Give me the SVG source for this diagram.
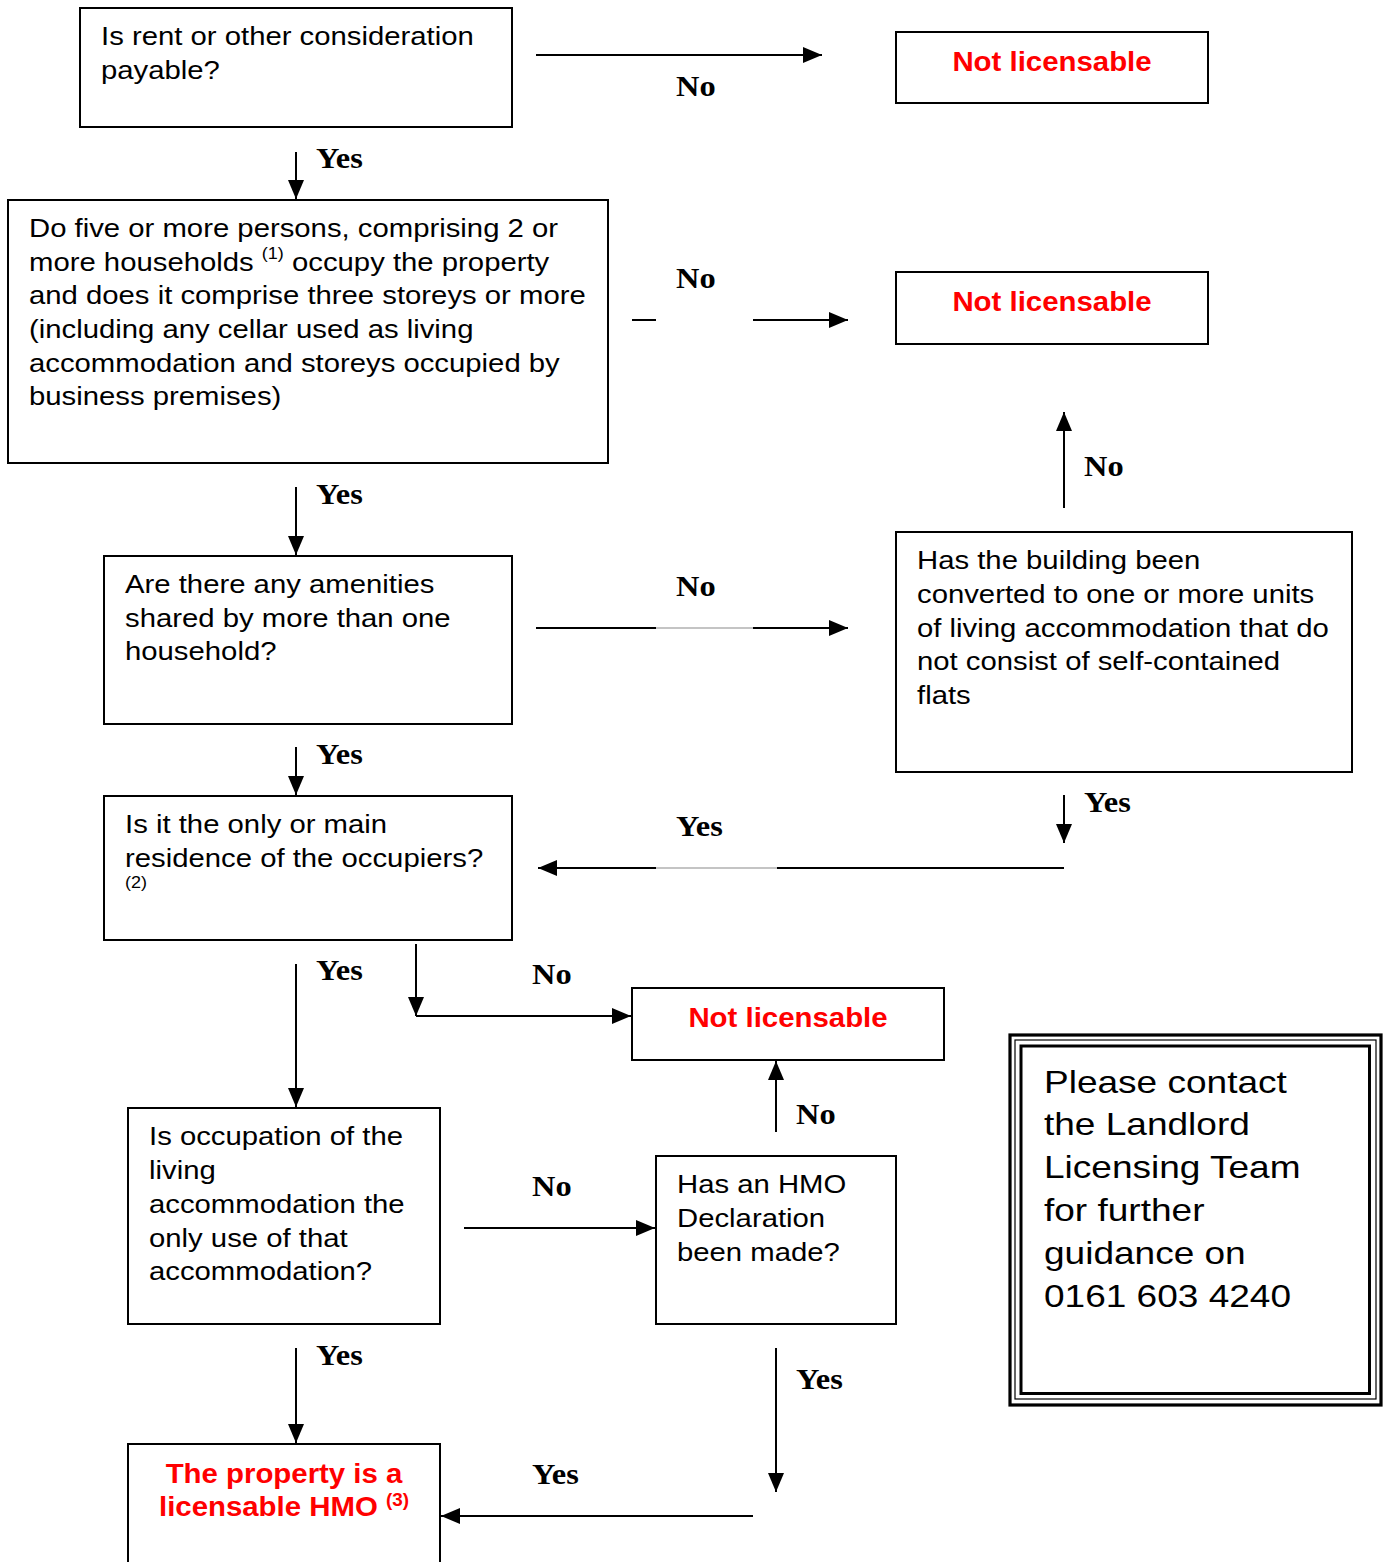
<svg xmlns="http://www.w3.org/2000/svg" width="1388" height="1562" viewBox="0 0 1388 1562">
<style>
.box{fill:#fff;stroke:#000;stroke-width:2}
.t{font-family:"Liberation Sans",Arial,sans-serif;font-size:26px;fill:#000}
.sup{font-size:16px}
.red{font-family:"Liberation Sans",Arial,sans-serif;font-size:28px;font-weight:bold;fill:#ff0000}
.lbl{font-family:"Liberation Serif","Times New Roman",serif;font-size:30px;font-weight:bold;fill:#000}
.c{stroke:#000;stroke-width:2;fill:none}
.g{stroke:#b0b0b0;stroke-width:1.5;fill:none}
.big{font-family:"Liberation Sans",Arial,sans-serif;font-size:32px;fill:#000}
</style>
<defs>
<marker id="ah" markerUnits="userSpaceOnUse" markerWidth="20" markerHeight="16" refX="19" refY="8" orient="auto">
<path d="M0,0 L19,8 L0,16 Z" fill="#000"/>
</marker>
</defs>
<rect width="1388" height="1562" fill="#fff"/>

<g id="connectors">
<line class="c" x1="536" y1="55" x2="822" y2="55" marker-end="url(#ah)"/>
<line class="c" x1="296" y1="152" x2="296" y2="199" marker-end="url(#ah)"/>
<line class="c" x1="632" y1="320" x2="656" y2="320"/>
<line class="c" x1="753" y1="320" x2="848" y2="320" marker-end="url(#ah)"/>
<line class="c" x1="1064" y1="508" x2="1064" y2="412" marker-end="url(#ah)"/>
<line class="c" x1="296" y1="487" x2="296" y2="555" marker-end="url(#ah)"/>
<line class="c" x1="536" y1="628" x2="656" y2="628"/>
<line class="g" x1="656" y1="628" x2="753" y2="628"/>
<line class="c" x1="753" y1="628" x2="848" y2="628" marker-end="url(#ah)"/>
<line class="c" x1="296" y1="747" x2="296" y2="795" marker-end="url(#ah)"/>
<line class="c" x1="1064" y1="795" x2="1064" y2="843" marker-end="url(#ah)"/>
<line class="c" x1="1064" y1="868" x2="777" y2="868"/>
<line class="g" x1="777" y1="868" x2="656" y2="868"/>
<line class="c" x1="656" y1="868" x2="538" y2="868" marker-end="url(#ah)"/>
<line class="c" x1="296" y1="964" x2="296" y2="1107" marker-end="url(#ah)"/>
<line class="c" x1="416" y1="944" x2="416" y2="1016" marker-end="url(#ah)"/>
<line class="c" x1="416" y1="1016" x2="631" y2="1016" marker-end="url(#ah)"/>
<line class="c" x1="776" y1="1132" x2="776" y2="1061" marker-end="url(#ah)"/>
<line class="c" x1="464" y1="1228" x2="655" y2="1228" marker-end="url(#ah)"/>
<line class="c" x1="296" y1="1348" x2="296" y2="1443" marker-end="url(#ah)"/>
<line class="c" x1="776" y1="1348" x2="776" y2="1492" marker-end="url(#ah)"/>
<line class="c" x1="753" y1="1516" x2="441" y2="1516" marker-end="url(#ah)"/>
<text class="lbl" x="0" y="96" transform="translate(676,0) scale(1.08,1)">No</text>
<text class="lbl" x="0" y="168" transform="translate(316,0) scale(1.08,1)">Yes</text>
<text class="lbl" x="0" y="288" transform="translate(676,0) scale(1.08,1)">No</text>
<text class="lbl" x="0" y="476" transform="translate(1084,0) scale(1.08,1)">No</text>
<text class="lbl" x="0" y="504" transform="translate(316,0) scale(1.08,1)">Yes</text>
<text class="lbl" x="0" y="596" transform="translate(676,0) scale(1.08,1)">No</text>
<text class="lbl" x="0" y="764" transform="translate(316,0) scale(1.08,1)">Yes</text>
<text class="lbl" x="0" y="812" transform="translate(1084,0) scale(1.08,1)">Yes</text>
<text class="lbl" x="0" y="836" transform="translate(676,0) scale(1.08,1)">Yes</text>
<text class="lbl" x="0" y="980" transform="translate(316,0) scale(1.08,1)">Yes</text>
<text class="lbl" x="0" y="984" transform="translate(532,0) scale(1.08,1)">No</text>
<text class="lbl" x="0" y="1124" transform="translate(796,0) scale(1.08,1)">No</text>
<text class="lbl" x="0" y="1196" transform="translate(532,0) scale(1.08,1)">No</text>
<text class="lbl" x="0" y="1365" transform="translate(316,0) scale(1.08,1)">Yes</text>
<text class="lbl" x="0" y="1389" transform="translate(796,0) scale(1.08,1)">Yes</text>
<text class="lbl" x="0" y="1484" transform="translate(532,0) scale(1.08,1)">Yes</text>
</g>

<g id="q-rent">
<rect class="box" x="80" y="8" width="432" height="119"/>
<g transform="translate(101,0) scale(1.127,1)">
<text class="t" x="0" y="45">Is rent or other consideration</text>
<text class="t" x="0" y="79">payable?</text>
</g>
</g>

<g id="nl-1">
<rect class="box" x="896" y="32" width="312" height="71"/>
<text class="red" x="0" y="71" text-anchor="middle" transform="translate(1052,0) scale(1.05,1)">Not licensable</text>
</g>

<g id="q-five">
<rect class="box" x="8" y="200" width="600" height="263"/>
<g transform="translate(29,0) scale(1.127,1)">
<text class="t" x="0" y="237">Do five or more persons, comprising 2 or</text>
<text class="t" x="0" y="271">more households <tspan class="sup" dy="-12">(1)</tspan><tspan dy="12"> occupy the property</tspan></text>
<text class="t" x="0" y="304">and does it comprise three storeys or more</text>
<text class="t" x="0" y="338">(including any cellar used as living</text>
<text class="t" x="0" y="372">accommodation and storeys occupied by</text>
<text class="t" x="0" y="405">business premises)</text>
</g>
</g>

<g id="nl-2">
<rect class="box" x="896" y="272" width="312" height="72"/>
<text class="red" x="0" y="311" text-anchor="middle" transform="translate(1052,0) scale(1.05,1)">Not licensable</text>
</g>

<g id="q-converted">
<rect class="box" x="896" y="532" width="456" height="240"/>
<g transform="translate(917,0) scale(1.127,1)">
<text class="t" x="0" y="569">Has the building been</text>
<text class="t" x="0" y="603">converted to one or more units</text>
<text class="t" x="0" y="637">of living accommodation that do</text>
<text class="t" x="0" y="670">not consist of self-contained</text>
<text class="t" x="0" y="704">flats</text>
</g>
</g>

<g id="q-amenities">
<rect class="box" x="104" y="556" width="408" height="168"/>
<g transform="translate(125,0) scale(1.127,1)">
<text class="t" x="0" y="593">Are there any amenities</text>
<text class="t" x="0" y="627">shared by more than one</text>
<text class="t" x="0" y="660">household?</text>
</g>
</g>

<g id="q-residence">
<rect class="box" x="104" y="796" width="408" height="144"/>
<g transform="translate(125,0) scale(1.127,1)">
<text class="t" x="0" y="833">Is it the only or main</text>
<text class="t" x="0" y="867">residence of the occupiers?</text>
<text class="t sup" x="0" y="888">(2)</text>
</g>
</g>

<g id="nl-3">
<rect class="box" x="632" y="988" width="312" height="72"/>
<text class="red" x="0" y="1027" text-anchor="middle" transform="translate(788,0) scale(1.05,1)">Not licensable</text>
</g>

<g id="q-occupation">
<rect class="box" x="128" y="1108" width="312" height="216"/>
<g transform="translate(149,0) scale(1.127,1)">
<text class="t" x="0" y="1145">Is occupation of the</text>
<text class="t" x="0" y="1179">living</text>
<text class="t" x="0" y="1213">accommodation the</text>
<text class="t" x="0" y="1247">only use of that</text>
<text class="t" x="0" y="1280">accommodation?</text>
</g>
</g>

<g id="q-declaration">
<rect class="box" x="656" y="1156" width="240" height="168"/>
<g transform="translate(677,0) scale(1.127,1)">
<text class="t" x="0" y="1193">Has an HMO</text>
<text class="t" x="0" y="1227">Declaration</text>
<text class="t" x="0" y="1261">been made?</text>
</g>
</g>

<g id="result-hmo">
<rect class="box" x="128" y="1444" width="312" height="130"/>
<g transform="translate(284,0) scale(1.05,1)">
<text class="red" x="0" y="1483" text-anchor="middle">The property is a</text>
<text class="red" x="0" y="1516" text-anchor="middle">licensable HMO <tspan font-size="18" dy="-10">(3)</tspan></text>
</g>
</g>

<g id="contact">
<rect x="1010" y="1035" width="371" height="370" fill="#fff" stroke="#000" stroke-width="3.2"/>
<rect x="1015" y="1040" width="361" height="359" fill="none" stroke="#000" stroke-width="1.2"/>
<rect x="1021" y="1046" width="348.5" height="347.5" fill="none" stroke="#000" stroke-width="3"/>
<g transform="translate(1044,0) scale(1.157,1)">
<text class="big" x="0" y="1093">Please contact</text>
<text class="big" x="0" y="1135">the Landlord</text>
<text class="big" x="0" y="1178">Licensing Team</text>
<text class="big" x="0" y="1221">for further</text>
<text class="big" x="0" y="1264">guidance on</text>
<text class="big" x="0" y="1307">0161 603 4240</text>
</g>
</g>
</svg>
